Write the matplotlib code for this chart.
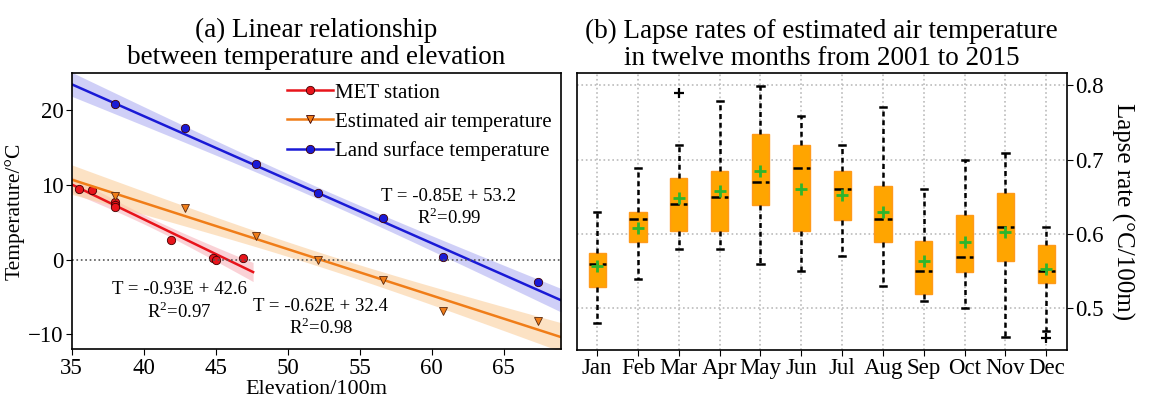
import numpy as np
import matplotlib
matplotlib.use("Agg")
import matplotlib.pyplot as plt

plt.rcParams['font.family'] = ['Liberation Serif', 'DejaVu Serif']
plt.rcParams['mathtext.fontset'] = 'custom'
plt.rcParams['mathtext.rm'] = 'Liberation Serif'

# ---- (a) temperature vs elevation ----
met_elev = [35.5, 36.4, 38.0, 38.0, 38.0, 41.9, 44.8, 45.0, 46.9]
met_temp = [9.5, 9.3, 7.7, 7.3, 7.0, 2.6, 0.2, 0.0, 0.2]

est_elev = [38.0, 42.9, 47.8, 52.1, 56.6, 60.8, 67.4]
est_temp = [8.5, 6.9, 3.2, 0.0, -2.7, -6.9, -8.2]

lst_elev = [38.0, 42.9, 47.8, 52.1, 56.6, 60.8, 67.4]
lst_temp = [20.8, 17.6, 12.8, 8.9, 5.5, 0.3, -3.0]

# regression coefficients (slope, intercept) as printed on the chart
met_fit = (-0.93, 42.6)
est_fit = (-0.62, 32.4)
lst_fit = (-0.85, 53.2)

# ---- (b) monthly lapse rate box statistics ----
months = ['Jan', 'Feb', 'Mar', 'Apr', 'May', 'Jun', 'Jul', 'Aug', 'Sep', 'Oct', 'Nov', 'Dec']
whis_lo = [0.480, 0.539, 0.580, 0.580, 0.560, 0.550, 0.570, 0.530, 0.510, 0.500, 0.461, 0.470]
q1      = [0.529, 0.589, 0.604, 0.604, 0.639, 0.604, 0.619, 0.589, 0.519, 0.549, 0.564, 0.534]
median  = [0.560, 0.620, 0.640, 0.650, 0.670, 0.689, 0.660, 0.620, 0.550, 0.569, 0.610, 0.550]
q3      = [0.575, 0.630, 0.675, 0.685, 0.735, 0.719, 0.685, 0.665, 0.590, 0.625, 0.655, 0.585]
whis_hi = [0.630, 0.689, 0.719, 0.779, 0.799, 0.759, 0.719, 0.770, 0.660, 0.700, 0.709, 0.610]
means   = [0.557, 0.608, 0.649, 0.658, 0.685, 0.660, 0.652, 0.629, 0.563, 0.589, 0.603, 0.553]
fliers  = [[], [], [0.789], [], [], [], [], [], [], [], [], [0.460]]


def band(xs, ys, fit, grid, t=2.4):
    xs = np.asarray(xs)
    ys = np.asarray(ys)
    resid = ys - (fit[0] * xs + fit[1])
    s = np.sqrt(np.sum(resid ** 2) / (len(xs) - 2))
    sxx = np.sum((xs - xs.mean()) ** 2)
    se = s * np.sqrt(1.0 / len(xs) + (grid - xs.mean()) ** 2 / sxx)
    line = fit[0] * grid + fit[1]
    return line, line - t * se, line + t * se


fig = plt.figure(figsize=(11.52, 4.07), dpi=100)
ax1 = fig.add_axes([0.0622, 0.1418, 0.425, 0.6796])
ax2 = fig.add_axes([0.5006, 0.140, 0.4254, 0.680])

xmin, xmax = 35, 69
g_full = np.linspace(xmin, xmax, 200)
g_met = np.linspace(xmin, 47.6, 200)

series = [
    (met_elev, met_temp, met_fit, g_met, '#e8141b', 'o', 'MET station'),
    (est_elev, est_temp, est_fit, g_full, '#f07d18', 'v', 'Estimated air temperature'),
    (lst_elev, lst_temp, lst_fit, g_full, '#1a1ad6', 'o', 'Land surface temperature'),
]
band_cols = ['#f8b4bc', '#fbcf9e', '#b0b0f2']

handles = []
for (xs, ys, fit, grid, col, mk, lab), bc in zip(series, band_cols):
    line, lo, hi = band(xs, ys, fit, grid)
    ms = 6 if mk == 'o' else 5.5
    ax1.fill_between(grid, lo, hi, color=bc, alpha=0.6, lw=0)
    ax1.plot(grid, line, color=col, lw=1.8)
    ax1.plot(xs, ys, ls='none', marker=mk, ms=ms,
             mfc=col, mec='#5a2a10' if mk == 'v' else '#400000', mew=0.6)
    h, = ax1.plot([], [], color=col, lw=1.8, marker=mk, ms=ms, mfc=col,
                  mec='#400000', mew=0.6, label=lab)
    handles.append(h)

ax1.axhline(0, color='#555555', ls=':', lw=1.2)
ax1.set_xlim(xmin, xmax)
ax1.set_ylim(-12, 25)
ax1.set_xticks([35, 40, 45, 50, 55, 60, 65])
ax1.set_yticks([-10, 0, 10, 20])
ax1.set_yticklabels(['\u221210', '0', '10', '20'])
ax1.tick_params(labelsize=16.5, direction='out', length=4, pad=2)
ax1.set_xlabel('Elevation/100m', fontsize=16, labelpad=1)
ax1.set_ylabel('Temperature/\u00b0C', fontsize=15.5, labelpad=2)
ax1.set_title('(a) Linear relationship\nbetween temperature and elevation',
              fontsize=19.5, linespacing=1.1, pad=6)
ax1.legend(handles=handles, loc='upper right', bbox_to_anchor=(1.01, 1.015),
           frameon=False, fontsize=15, handlelength=2.2, handletextpad=0.1,
           labelspacing=0.45, borderaxespad=0.3)

ax1.text(61.2, 6.9, 'T = -0.85E + 53.2\nR$^2$=0.99', fontsize=13.5,
         ha='center', va='center', linespacing=1.15)
ax1.text(42.5, -5.6, 'T = -0.93E + 42.6\nR$^2$=0.97', fontsize=13.5,
         ha='center', va='center', linespacing=1.15)
ax1.text(52.3, -7.8, 'T = -0.62E + 32.4\nR$^2$=0.98', fontsize=13.5,
         ha='center', va='center', linespacing=1.15)

# ---- right panel ----
stats = []
for i in range(len(months)):
    stats.append(dict(label=months[i], whislo=whis_lo[i], q1=q1[i], med=median[i],
                      q3=q3[i], whishi=whis_hi[i], mean=means[i], fliers=fliers[i]))

ax2.bxp(stats, positions=np.arange(1, 13), widths=0.42, patch_artist=True,
        showmeans=True, showfliers=True,
        boxprops=dict(facecolor='#ffa500', edgecolor='#ff9a1a', lw=1),
        medianprops=dict(color='black', ls='--', lw=1.8),
        whiskerprops=dict(color='black', ls=(0, (2, 1.5)), lw=1.8),
        capprops=dict(color='black', lw=1.8),
        capwidths=0.15,
        meanprops=dict(marker='+', mec='#2db52d', mew=2, ms=9),
        flierprops=dict(marker='+', mec='black', mew=1.6, ms=7))

ax2.set_xlim(0.5, 12.5)
ax2.set_ylim(0.444, 0.816)
ax2.set_yticks([0.5, 0.6, 0.7, 0.8])
ax2.set_xticks(np.arange(1, 13))
ax2.set_xticklabels(months)
ax2.yaxis.tick_right()
ax2.yaxis.set_label_position('right')
ax2.grid(True, color='#bbbbbb', ls=':', lw=1.2)
ax2.set_axisbelow(True)
ax2.tick_params(labelsize=16.5, direction='out', length=4, pad=2)
ax2.set_ylabel('Lapse rate (\u00b0C/100m)', fontsize=18, rotation=270, labelpad=22)
ax2.set_title('(b) Lapse rates of estimated air temperature\nin twelve months from 2001 to 2015',
              fontsize=19.5, linespacing=1.1, pad=6)

for ax in (ax1, ax2):
    for sp in ax.spines.values():
        sp.set_linewidth(1.2)

fig.savefig('out.png', dpi=100)
